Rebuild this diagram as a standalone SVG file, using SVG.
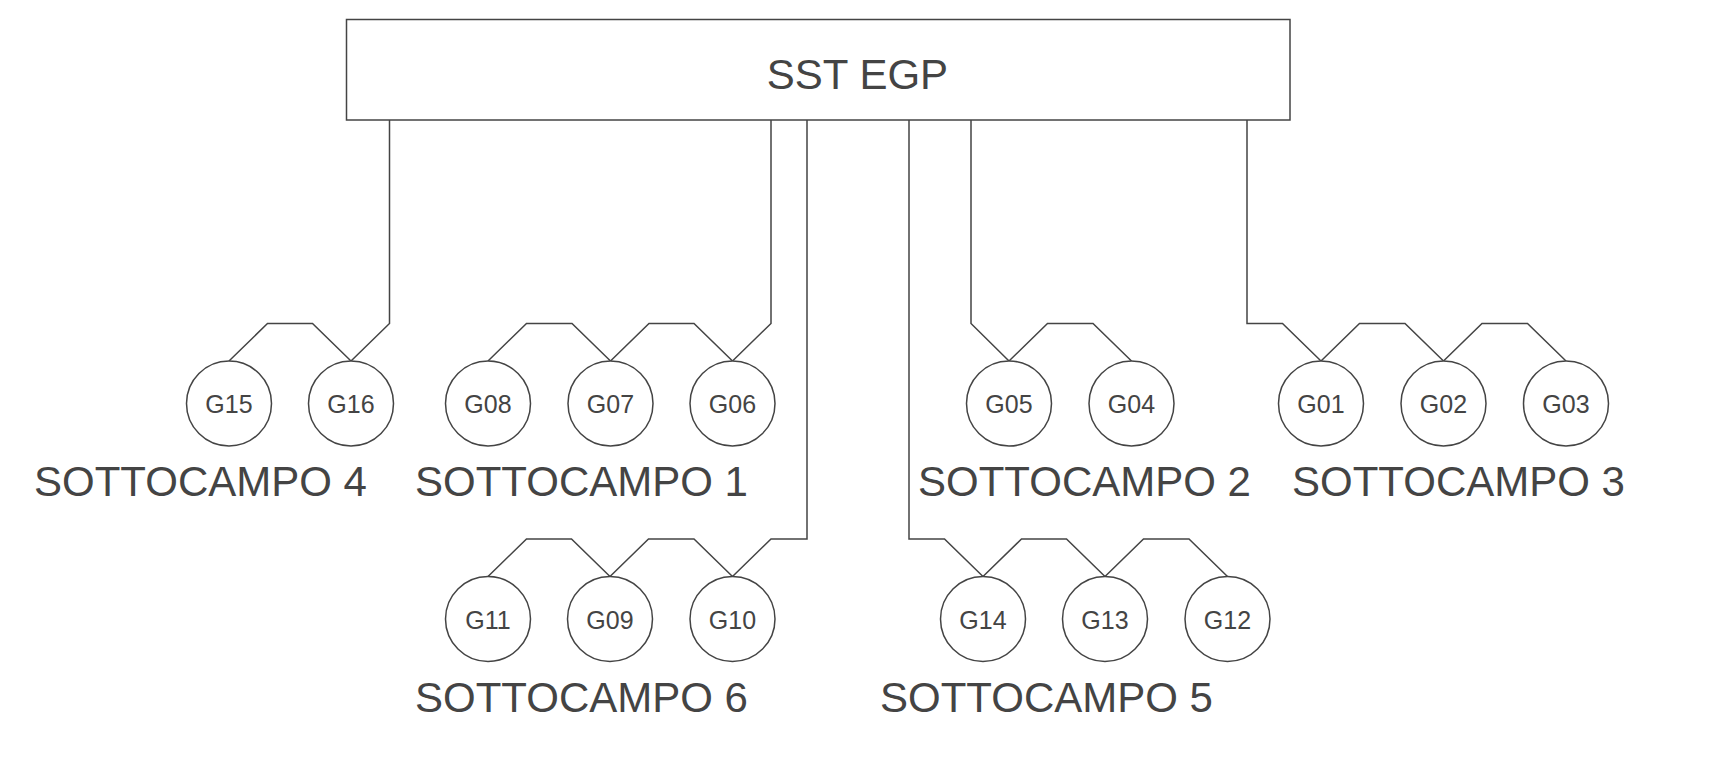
<svg xmlns="http://www.w3.org/2000/svg" width="1709" height="764" viewBox="0 0 1709 764">
<style>
.n{fill:#fff;stroke:#444;stroke-width:1.5}
.c{fill:none;stroke:#444;stroke-width:1.5}
.g{font-family:"Liberation Sans",Arial,sans-serif;font-size:25px;fill:#444;text-anchor:middle}
.t{font-family:"Liberation Sans",Arial,sans-serif;font-size:42px;fill:#444}
</style>
<rect width="1709" height="764" fill="#fff"/>
<g id="connectors">
<path class="c" d="M229,361 L267.5,323.5 L312.5,323.5 L351,361"/>
<path class="c" d="M351,361 L389.5,323.5 L389.5,120"/>
<path class="c" d="M488,361 L526.5,323.5 L572,323.5 L610.5,361"/>
<path class="c" d="M610.5,361 L649,323.5 L694,323.5 L732.5,361"/>
<path class="c" d="M732.5,361 L771,323.5 L771,120"/>
<path class="c" d="M971,120 L971,323.5 L1009,361"/>
<path class="c" d="M1009,361 L1047.5,323.5 L1093,323.5 L1131.5,361"/>
<path class="c" d="M1247,120 L1247,323.5 L1282.5,323.5 L1321,361"/>
<path class="c" d="M1321,361 L1359.5,323.5 L1405,323.5 L1443.5,361"/>
<path class="c" d="M1443.5,361 L1482,323.5 L1527.5,323.5 L1566,361"/>
<path class="c" d="M488,576.5 L526.5,539 L571.5,539 L610,576.5"/>
<path class="c" d="M610,576.5 L648.5,539 L694,539 L732.5,576.5"/>
<path class="c" d="M732.5,576.5 L771,539 L807,539 L807,120"/>
<path class="c" d="M909,120 L909,539 L944.5,539 L983,576.5"/>
<path class="c" d="M983,576.5 L1021.5,539 L1066.5,539 L1105,576.5"/>
<path class="c" d="M1105,576.5 L1143.5,539 L1189,539 L1227.5,576.5"/>
</g>
<g id="sst"><rect class="n" x="346.5" y="19.5" width="943.5" height="100.5"/><text class="t" x="857.5" y="88.5" text-anchor="middle">SST EGP</text></g>
<g id="G15"><circle class="n" cx="229" cy="403.5" r="42.5"/><text class="g" x="229" y="413">G15</text></g>
<g id="G16"><circle class="n" cx="351" cy="403.5" r="42.5"/><text class="g" x="351" y="413">G16</text></g>
<g id="G08"><circle class="n" cx="488" cy="403.5" r="42.5"/><text class="g" x="488" y="413">G08</text></g>
<g id="G07"><circle class="n" cx="610.5" cy="403.5" r="42.5"/><text class="g" x="610.5" y="413">G07</text></g>
<g id="G06"><circle class="n" cx="732.5" cy="403.5" r="42.5"/><text class="g" x="732.5" y="413">G06</text></g>
<g id="G05"><circle class="n" cx="1009" cy="403.5" r="42.5"/><text class="g" x="1009" y="413">G05</text></g>
<g id="G04"><circle class="n" cx="1131.5" cy="403.5" r="42.5"/><text class="g" x="1131.5" y="413">G04</text></g>
<g id="G01"><circle class="n" cx="1321" cy="403.5" r="42.5"/><text class="g" x="1321" y="413">G01</text></g>
<g id="G02"><circle class="n" cx="1443.5" cy="403.5" r="42.5"/><text class="g" x="1443.5" y="413">G02</text></g>
<g id="G03"><circle class="n" cx="1566" cy="403.5" r="42.5"/><text class="g" x="1566" y="413">G03</text></g>
<g id="G11"><circle class="n" cx="488" cy="619" r="42.5"/><text class="g" x="488" y="628.5">G11</text></g>
<g id="G09"><circle class="n" cx="610" cy="619" r="42.5"/><text class="g" x="610" y="628.5">G09</text></g>
<g id="G10"><circle class="n" cx="732.5" cy="619" r="42.5"/><text class="g" x="732.5" y="628.5">G10</text></g>
<g id="G14"><circle class="n" cx="983" cy="619" r="42.5"/><text class="g" x="983" y="628.5">G14</text></g>
<g id="G13"><circle class="n" cx="1105" cy="619" r="42.5"/><text class="g" x="1105" y="628.5">G13</text></g>
<g id="G12"><circle class="n" cx="1227.5" cy="619" r="42.5"/><text class="g" x="1227.5" y="628.5">G12</text></g>
<g id="labels">
<text class="t" x="34" y="496">SOTTOCAMPO 4</text>
<text class="t" x="415" y="496">SOTTOCAMPO 1</text>
<text class="t" x="918" y="496">SOTTOCAMPO 2</text>
<text class="t" x="1292" y="496">SOTTOCAMPO 3</text>
<text class="t" x="415" y="712">SOTTOCAMPO 6</text>
<text class="t" x="880" y="712">SOTTOCAMPO 5</text>
</g>
</svg>
